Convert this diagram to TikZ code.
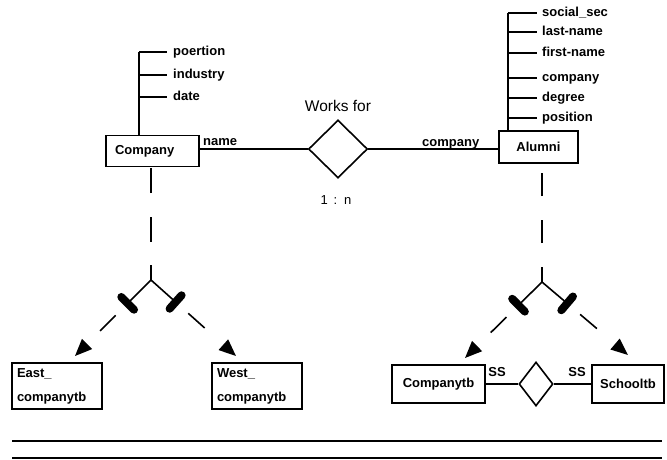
\documentclass[tikz,border=0pt]{standalone}
\usepackage{fontspec}
\setmainfont{Liberation Sans}
\usetikzlibrary{arrows.meta,shapes.geometric,calc}
\newcommand\lblfont{\fontsize{13}{15}\selectfont\bfseries}
\newcommand\twolinefont{\fontsize{13}{24}\selectfont\bfseries}
\begin{document}
\begin{tikzpicture}[x=1pt,y=-1pt,
  ln/.style={line width=1.6pt},
  ent/.style={draw,line width=1.6pt,font=\lblfont,inner sep=0pt},
  attr/.style={font=\lblfont,anchor=west,inner sep=0pt,text height=9pt,text depth=3pt},
  lab/.style={font=\lblfont,inner sep=0pt},
  rel/.style={draw,diamond,line width=1.6pt,inner sep=0pt},
  br/.style={line width=1.6pt,dash pattern=on 32pt off 18pt on 22pt off 60pt,-{Triangle[length=17pt,width=14pt]}},
  bar/.style={line width=8pt,line cap=round}]
\useasboundingbox (0,0) rectangle (667,459);
% entities
\node[ent,minimum width=93pt,minimum height=31pt,text width=75pt,align=left] (company) at (152.5,151) {Company};
\node[ent,minimum width=79pt,minimum height=32pt] (alumni) at (538.5,147) {Alumni};
\node[rel,minimum width=59pt,minimum height=58pt] (works) at (338,149) {};
\draw[ln] (company.east |- works.west) -- (works.west);
\draw[ln] (works.east) -- (works.east -| alumni.west);
\node[lab,anchor=base west] (lname) at (203,145) {name};
\node[lab,anchor=base west] (lcomp) at (422,146) {company};
\node[font=\fontsize{15.5}{18}\selectfont,inner sep=0pt] (wf) at (338,106) {Works for};
\node[font=\fontsize{13}{15}\selectfont,inner sep=0pt] (card) at (336,200) {1 \,:\, n};
% company attributes
\coordinate (cv) at (139,52);
\draw[ln] (cv) -- (cv |- company.north);
\node[attr] (ca1) at (173,52) {poertion};
\node[attr] (ca2) at (173,75) {industry};
\node[attr] (ca3) at (173,97) {date};
\foreach \a in {ca1,ca2,ca3} \draw[ln] (cv |- \a.west) -- ([xshift=-6pt]\a.west);
% alumni attributes
\coordinate (av) at (508,13);
\draw[ln] (av) -- (av |- alumni.north);
\node[attr] (aa1) at (542,13) {social\_sec};
\node[attr] (aa2) at (542,32) {last-name};
\node[attr] (aa3) at (542,53) {first-name};
\node[attr] (aa4) at (542,78) {company};
\node[attr] (aa5) at (542,98) {degree};
\node[attr] (aa6) at (542,118) {position};
\foreach \a in {aa1,aa2,aa3,aa4,aa5,aa6} \draw[ln] (av |- \a.west) -- ([xshift=-5pt]\a.west);
% lower entities
\node[ent,font=\twolinefont,minimum width=90pt,minimum height=46pt,text width=80pt,align=left] (east) at (57,386) {East\_\\companytb};
\node[ent,font=\twolinefont,minimum width=90pt,minimum height=46pt,text width=80pt,align=left] (west) at (257,386) {West\_\\companytb};
\node[ent,minimum width=93pt,minimum height=38pt] (ctb) at (438.5,384) {Companytb};
\node[ent,minimum width=72pt,minimum height=38pt] (stb) at (628,384) {Schooltb};
\node[rel,minimum width=34pt,minimum height=44pt] (ssd) at (536,384) {};
\draw[ln] (ctb.east) -- (ssd.west);
\draw[ln] (ssd.east) -- (stb.west);
\node[lab] (ss1) at (497,372) {SS};
\node[lab] (ss2) at (577,372) {SS};
% specialisation forks
\coordinate (fL) at (151,280);
\coordinate (fR) at (542,282);
\draw[ln,dash pattern=on 25pt off 23.5pt,dash phase=10pt] (fL) -- (fL |- company.south);
\draw[ln,dash pattern=on 23pt off 24pt,dash phase=8pt] (fR) -- (fR |- alumni.south);
\coordinate (tE) at (75,356);
\coordinate (tW) at (236,356);
\coordinate (tC) at (465,358);
\coordinate (tS) at (628,355);
\foreach \f/\t in {fL/tE,fL/tW,fR/tC,fR/tS}{
  \draw[br] (\f) -- (\t);
  \coordinate (m) at ($(\f)!33pt!(\t)$);
  \draw[bar] ($(m)!9pt!90:(\t)$) -- ($(m)!9pt!-90:(\t)$);
}
% bottom rules
\draw[line width=1.8pt] (12,441) -- (662,441);
\draw[line width=1.8pt] (12,458) -- (662,458);
\end{tikzpicture}
\end{document}
